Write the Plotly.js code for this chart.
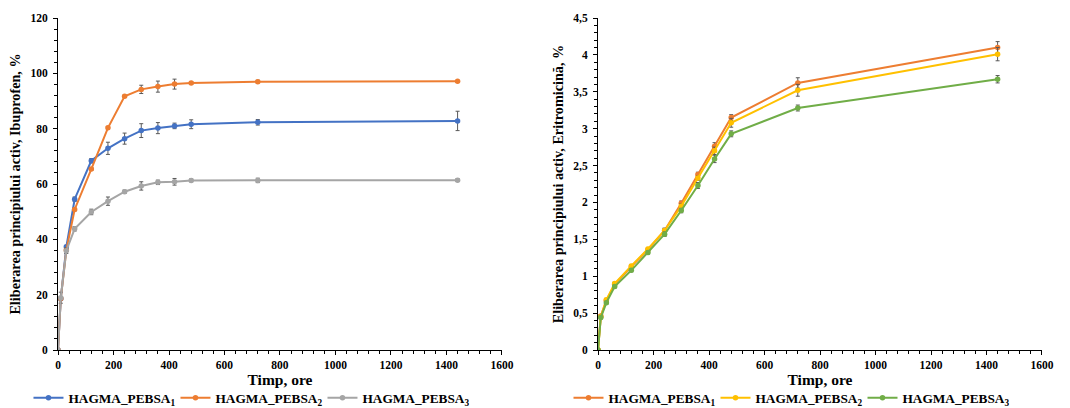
<!DOCTYPE html>
<html><head><meta charset="utf-8">
<script src="https://cdn.plot.ly/plotly-3.0.1.min.js"></script>
<style>body{margin:0;background:#fff}#c{width:1070px;height:408px}</style>
</head><body><div id="c"></div>
<script>
// Left chart: Ibuprofen release (%)
const timeIbu = [0, 10, 30, 60, 120, 180, 240, 300, 360, 420, 480, 720, 1440];
const ibuP1 = [0, 18.5, 37.3, 54.5, 68.4, 72.9, 76.4, 79.3, 80.2, 81.0, 81.6, 82.3, 82.8];
const ibuP1Err = [0, 0.5, 0.5, 0.8, 0.8, 2.2, 2.0, 2.5, 2.0, 1.0, 1.6, 1.0, 3.5];
const ibuP2 = [0, 18.6, 36.1, 50.8, 65.4, 80.3, 91.7, 94.2, 95.2, 96.1, 96.5, 97.0, 97.1];
const ibuP2Err = [0, 0.5, 0.5, 0.5, 0.5, 0.5, 0.4, 1.5, 2.0, 1.8, 0.5, 0.5, 0.3];
const ibuP3 = [0, 18.9, 35.9, 43.8, 49.9, 53.8, 57.2, 59.3, 60.6, 60.8, 61.3, 61.3, 61.4];
const ibuP3Err = [0, 2.0, 1.0, 0.8, 1.0, 1.5, 0.6, 1.5, 0.8, 1.2, 0.5, 0.8, 0.5];
// Right chart: Erythromycin release (%)
const timeEri = [0, 10, 30, 60, 120, 180, 240, 300, 360, 420, 480, 720, 1440];
const eriP1 = [0, 0.46, 0.67, 0.89, 1.13, 1.36, 1.62, 1.99, 2.38, 2.76, 3.15, 3.62, 4.10];
const eriP1Err = [0, 0.02, 0.02, 0.02, 0.02, 0.02, 0.03, 0.03, 0.03, 0.05, 0.04, 0.07, 0.08];
const eriP2 = [0, 0.45, 0.68, 0.90, 1.14, 1.37, 1.62, 1.95, 2.33, 2.70, 3.08, 3.52, 4.01];
const eriP2Err = [0, 0.02, 0.02, 0.02, 0.02, 0.02, 0.03, 0.03, 0.03, 0.05, 0.06, 0.08, 0.09];
const eriP3 = [0, 0.44, 0.64, 0.86, 1.08, 1.32, 1.57, 1.89, 2.23, 2.59, 2.93, 3.28, 3.67];
const eriP3Err = [0, 0.02, 0.02, 0.02, 0.02, 0.02, 0.03, 0.03, 0.04, 0.05, 0.04, 0.04, 0.05];
const seriesNames = ['HAGMA_PEBSA<sub>1</sub>', 'HAGMA_PEBSA<sub>2</sub>', 'HAGMA_PEBSA<sub>3</sub>'];

const errColor = '#595959';
function tr(x, y, e, name, color, xa, ya, leg) {
  return {
    x: x, y: y, name: name, type: 'scatter', mode: 'lines+markers',
    xaxis: xa, yaxis: ya, legend: leg,
    line: {color: color, width: 2},
    marker: {color: color, size: 5.5, symbol: 'circle'},
    error_y: {type: 'data', array: e, visible: true, color: errColor, thickness: 1, width: 2}
  };
}
const data = [
  tr(timeIbu, ibuP1, ibuP1Err, seriesNames[0], '#4472C4', 'x', 'y', 'legend'),
  tr(timeIbu, ibuP2, ibuP2Err, seriesNames[1], '#ED7D31', 'x', 'y', 'legend'),
  tr(timeIbu, ibuP3, ibuP3Err, seriesNames[2], '#A5A5A5', 'x', 'y', 'legend'),
  tr(timeEri, eriP1, eriP1Err, seriesNames[0], '#ED7D31', 'x2', 'y2', 'legend2'),
  tr(timeEri, eriP2, eriP2Err, seriesNames[1], '#FFC000', 'x2', 'y2', 'legend2'),
  tr(timeEri, eriP3, eriP3Err, seriesNames[2], '#70AD47', 'x2', 'y2', 'legend2')
];
const F = 'Liberation Serif, Times New Roman, serif';
const tickFont = {family: F, size: 11.5, color: '#000', weight: 'bold'};
const titleFont = {family: F, size: 15.5, color: '#000', weight: 'bold'};
function xax(dom, anchor) {
  return {domain: dom, anchor: anchor, range: [0, 1600], dtick: 200, tick0: 0,
    showgrid: false, zeroline: false, showline: true, linecolor: '#000', linewidth: 1,
    ticks: 'outside', ticklen: 4, tickcolor: '#000', tickfont: tickFont,
    minor: {dtick: 40, tick0: 0, ticks: 'outside', ticklen: 3, tickcolor: '#000', showgrid: false},
    title: {text: '<b>Timp, ore</b>', font: titleFont, standoff: 2}};
}
function yax(range, dt, mdt, anchor, title) {
  return {domain: [0, 1], anchor: anchor, range: range, dtick: dt, tick0: 0,
    showgrid: false, zeroline: false, showline: true, linecolor: '#000', linewidth: 1,
    ticks: 'outside', ticklen: 4, tickcolor: '#000', tickfont: tickFont, ticklabelstandoff: 3,
    minor: {dtick: mdt, tick0: 0, ticks: 'outside', ticklen: 3, tickcolor: '#000', showgrid: false},
    title: {text: '<b>' + title + '</b>', font: {family: F, size: 14.2, color: '#000', weight: 'bold'}, standoff: 6}};
}
const legFont = {family: F, size: 13.3, color: '#000', weight: 'bold'};
const layout = {
  width: 1070, height: 408,
  margin: {l: 58, r: 28, t: 18, b: 58, autoexpand: false},
  paper_bgcolor: '#fff', plot_bgcolor: '#fff',
  separators: ', ',
  showlegend: true,
  xaxis: xax([0, 0.4512], 'y'),
  yaxis: yax([0, 120], 20, 4, 'x', 'Eliberarea principiului activ, Ibuprofen, %'),
  xaxis2: xax([0.5488, 1], 'y2'),
  yaxis2: yax([0, 4.5], 0.5, 0.1, 'x2', 'Eliberarea principiului activ, Eritromicină, %'),
  legend: {orientation: 'h', x: -0.030, xanchor: 'left', y: -0.145, yanchor: 'middle',
    font: legFont, itemwidth: 30, entrywidth: 102, bgcolor: 'rgba(0,0,0,0)'},
  legend2: {orientation: 'h', x: 0.5188, xanchor: 'left', y: -0.145, yanchor: 'middle',
    font: legFont, itemwidth: 30, entrywidth: 102, bgcolor: 'rgba(0,0,0,0)'}
};
Plotly.newPlot('c', data, layout, {displayModeBar: false, staticPlot: true});
</script></body></html>
